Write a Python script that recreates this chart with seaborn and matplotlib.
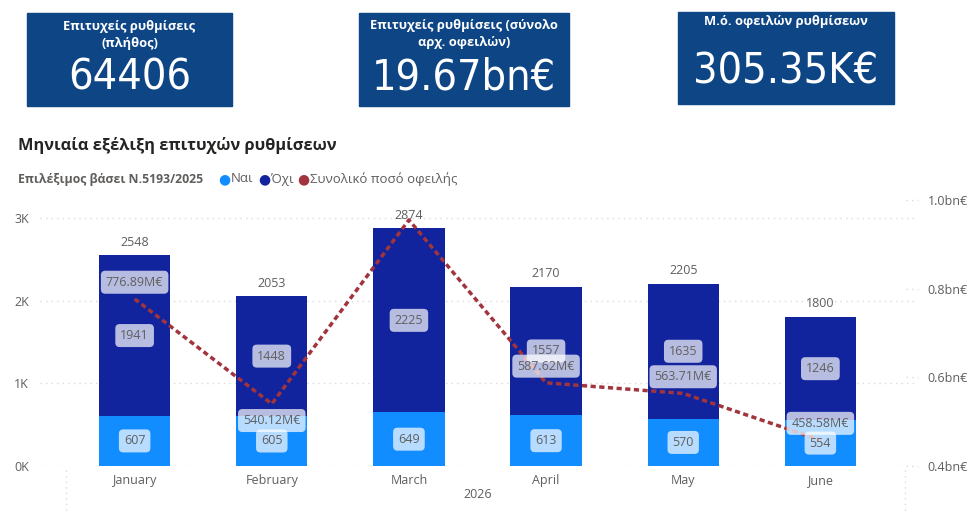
import matplotlib
matplotlib.use('Agg')
import matplotlib.pyplot as plt
import matplotlib.transforms as mtransforms
from matplotlib import font_manager as fm
import seaborn as sns
import pandas as pd

# data
months = ['January', 'February', 'March', 'April', 'May', 'June']
nai = [607, 605, 649, 613, 570, 554]
oxi = [1941, 1448, 2225, 1557, 1635, 1246]
debt_m = [776.89, 540.12, 955.0, 587.62, 563.71, 458.58]   # total debt, M€
debt_shown = [True, True, False, True, True, True]
debt_side = ['above', 'below', 'above', 'above', 'above', 'above']

kpi_titles = ['Επιτυχείς ρυθμίσεις\n(πλήθος)',
              'Επιτυχείς ρυθμίσεις (σύνολο\nαρχ. οφειλών)',
              'Μ.ό. οφειλών ρυθμίσεων']
kpi_values = ['64406', '19.67bn€', '305.35K€']

totals = [a + b for a, b in zip(nai, oxi)]
df = pd.DataFrame({'month': months, 'nai': nai, 'oxi': oxi, 'total': totals,
                   'debt': [d / 1000 for d in debt_m]})

C_NAI = '#118DFF'
C_OXI = '#12239E'
C_LINE = '#A1343C'
C_TXT = '#605E5C'
C_GRID = '#DADADA'
C_CARD = '#0D4585'

sns.set_theme(style='white')


def has_bold(name):
    for f in fm.fontManager.ttflist:
        if f.name == name and (f.weight in ('bold', 'semibold', 'demibold') or
                               (isinstance(f.weight, int) and f.weight >= 600)):
            return True
    return False


base = 'DejaVu Sans'
for cand in ['Noto Sans', 'Open Sans', 'Lato', 'Roboto', 'Inter']:
    if has_bold(cand):
        base = cand
        break
plt.rcParams['font.family'] = [base, 'DejaVu Sans']


def pick_narrow():
    # prefer DejaVu Sans Condensed (closest to the card font), then any narrow face
    for f in fm.fontManager.ttflist:
        if f.name == 'DejaVu Sans' and str(f.stretch) == 'condensed' and f.weight in (400, 'normal', 'regular', 'book'):
            return 'DejaVu Sans', 'condensed', 31
    for f in fm.fontManager.ttflist:
        if 'Condensed' in f.name or 'Narrow' in f.name:
            return f.name, 'normal', 36
    return 'DejaVu Sans', 'normal', 28


narrow_name, narrow_stretch, kpi_size = pick_narrow()

W, H = 974, 528
fig = plt.figure(figsize=(W / 100, H / 100), dpi=100)


def fx(x):
    return x / W


def fy(y):
    return 1 - y / H


# KPI cards
cards = [(27, 13, 205, 93), (359, 13, 210, 93), (678, 12, 216, 92)]
title_y = [35, 34, 22]
value_base = [90, 90, 83]
for (x, y, w, h), t, v, ty, vb in zip(cards, kpi_titles, kpi_values, title_y, value_base):
    fig.patches.append(plt.Rectangle((fx(x), fy(y + h)), w / W, h / H,
                                     transform=fig.transFigure, color=C_CARD))
    fig.text(fx(x + w / 2), fy(ty), t, ha='center', va='center', color='white',
             fontsize=9.3, fontweight='bold', linespacing=1.45)
    fig.text(fx(x + w / 2), fy(vb), v, ha='center', va='baseline', color='white',
             fontsize=kpi_size, family=narrow_name, stretch=narrow_stretch)

# title + legend
fig.text(fx(18), fy(145), 'Μηνιαία εξέλιξη επιτυχών ρυθμίσεων', ha='left', va='center',
         fontsize=11.8, fontweight='bold', color='#252423')
fig.text(fx(18), fy(179), 'Επιλέξιμος βάσει Ν.5193/2025', ha='left', va='center',
         fontsize=8.8, fontweight='bold', color=C_TXT)
leg = [(224, C_NAI, 'Ναι'), (264, C_OXI, 'Όχι'), (303, C_LINE, 'Συνολικό ποσό οφειλής')]
for x, c, lab in leg:
    fig.text(fx(x), fy(179), '●', ha='center', va='center', color=c, fontsize=10,
             family='DejaVu Sans')
    fig.text(fx(x + 7), fy(179), lab, ha='left', va='center', color=C_TXT, fontsize=9.5)

# main axes
ax = fig.add_axes([fx(40), fy(466), (915 - 40) / W, (466 - 200) / H])
sns.barplot(data=df, x='month', y='total', color=C_OXI, width=0.52, saturation=1,
            linewidth=0, ax=ax)
sns.barplot(data=df, x='month', y='nai', color=C_NAI, width=0.52, saturation=1,
            linewidth=0, ax=ax)
ax.set_xlim(-0.69, 5.69)
ax.set_ylim(0, 3217)
ax.set_yticks([0, 1000, 2000, 3000])
ax.set_yticklabels(['0K', '1K', '2K', '3K'])
ax.yaxis.grid(True, linestyle=(0, (1, 3)), color=C_GRID, linewidth=1)
ax.set_axisbelow(True)
ax.set_xlabel('')
ax.set_ylabel('')
ax.tick_params(axis='both', length=0, labelsize=9, colors=C_TXT)
ax.tick_params(axis='x', pad=6)
ax.tick_params(axis='y', pad=8)
for s in ax.spines.values():
    s.set_visible(False)

ax2 = ax.twinx()
sns.lineplot(x=list(range(len(months))), y=df['debt'], color=C_LINE, linewidth=2.5,
             ax=ax2, zorder=3)
ax2.lines[0].set_dashes((1.5, 1.0))
ax2.lines[0].set_dash_capstyle('butt')
ax2.set_ylim(0.4, 1.0)
ax2.set_xlim(-0.69, 5.69)
ax2.set_yticks([0.4, 0.6, 0.8, 1.0])
ax2.set_yticklabels(['0.4bn€', '0.6bn€', '0.8bn€', '1.0bn€'])
ax2.set_ylabel('')
ax2.tick_params(axis='y', length=0, labelsize=9, colors=C_TXT, pad=9)
for s in ax2.spines.values():
    s.set_visible(False)
bt = mtransforms.blended_transform_factory(ax2.transAxes, ax2.transData)
for t in [0.4, 0.6, 0.8, 1.0]:
    ax2.plot([0.99, 1.003], [t, t], transform=bt, color=C_GRID, linestyle=(0, (1, 3)),
             linewidth=1, clip_on=False)

box_kw = dict(boxstyle='round,pad=0.4,rounding_size=0.35', facecolor='white',
              alpha=0.7, edgecolor='none')

# labels (kept on ax2 so they sit above the line)
for i, (n, o, t) in enumerate(zip(nai, oxi, totals)):
    ax2.annotate(str(t), (i, t), xycoords=ax.transData, xytext=(0, 9.5),
                 textcoords='offset points', ha='center', va='center', fontsize=9,
                 color=C_TXT, zorder=5)
    ax2.text(i, n / 2, str(n), transform=ax.transData, ha='center', va='center',
             fontsize=9, color=C_TXT, bbox=box_kw, zorder=6)
    ax2.text(i, n + o / 2, str(o), transform=ax.transData, ha='center', va='center',
             fontsize=9, color=C_TXT, bbox=box_kw, zorder=6)

for i, (d, show, side) in enumerate(zip(debt_m, debt_shown, debt_side)):
    if not show:
        continue
    off = 12 if side == 'above' else -12
    ax2.annotate(f'{d:.2f}M€', (i, d / 1000), xytext=(0, off), textcoords='offset points',
                 ha='center', va='center', fontsize=9, color=C_TXT, bbox=box_kw, zorder=7)

# x-axis hierarchy label and separators
fig.text(fx(478), fy(495), '2026', ha='center', va='center', fontsize=9, color=C_TXT)
for x in [66, 905]:
    fig.lines.append(plt.Line2D([fx(x), fx(x)], [fy(470), fy(512)], transform=fig.transFigure,
                                color=C_GRID, linestyle=(0, (1, 3)), linewidth=1))

fig.savefig('out.png', dpi=100)
